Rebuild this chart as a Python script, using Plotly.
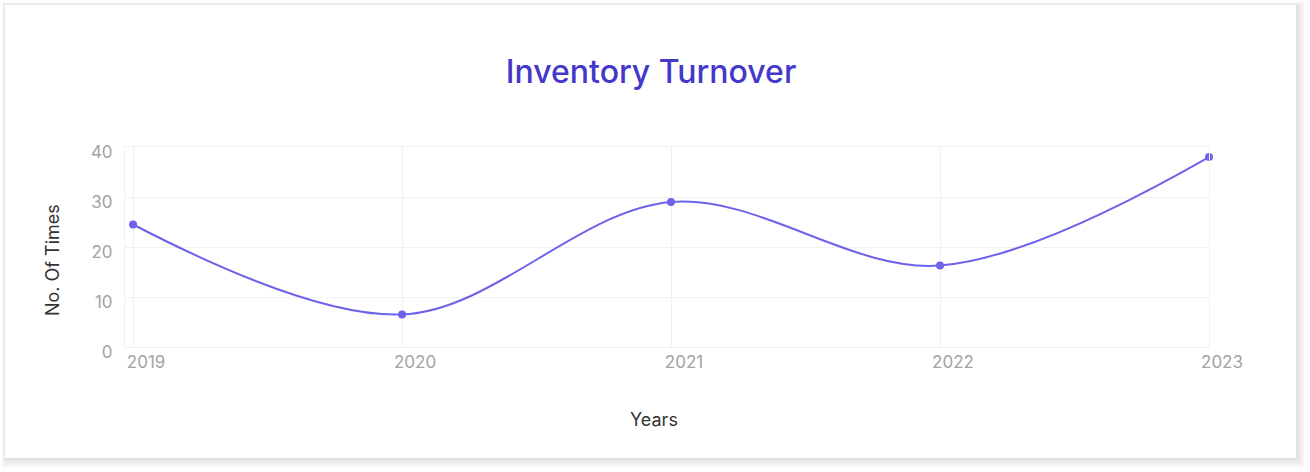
import plotly.graph_objects as go

W, H = 1310, 472

years = [2019, 2020, 2021, 2022, 2023]
year_labels = ["2019", "2020", "2021", "2022", "2023"]
turnover = [24.5, 6.5, 29, 16.3, 38]
y_ticks = [0, 10, 20, 30, 40]


def px_x(p):
    return p / W


def px_y(p):
    return 1 - p / H


fig = go.Figure()

fig.add_trace(
    go.Scatter(
        x=years,
        y=turnover,
        mode="lines+markers",
        line=dict(color="#6c63ea", width=2, shape="spline", smoothing=1),
        marker=dict(color="#6c63ea", size=8),
        hoverinfo="x+y",
        showlegend=False,
        cliponaxis=False,
    )
)

# card with soft shadow (stacked translucent rects)
shapes = []
for off in range(1, 11):
    shapes.append(
        dict(
            type="rect", xref="paper", yref="paper", layer="below",
            x0=px_x(5 - off * 0.3), x1=px_x(1296 + off), y0=px_y(458 + off), y1=px_y(5 - off * 0.3),
            fillcolor="rgba(0,0,0,0.011)", line=dict(width=0),
        )
    )
shapes.append(
    dict(
        type="rect", xref="paper", yref="paper", layer="below",
        x0=px_x(5), x1=px_x(1296), y0=px_y(458), y1=px_y(5),
        fillcolor="white", line=dict(width=0),
    )
)

# axis titles as annotations so they sit where the original puts them
axis_titles = [
    dict(text="Years", x=px_x(654), y=px_y(419), textangle=0),
    dict(text="No. Of Times", x=px_x(52), y=px_y(260), textangle=-90),
]
annotations = [
    dict(
        text=t["text"], x=t["x"], y=t["y"], textangle=t["textangle"],
        xref="paper", yref="paper", xanchor="center", yanchor="middle",
        showarrow=False, font=dict(family="Inter", size=18, color="#333333"),
    )
    for t in axis_titles
]

fig.update_layout(
    width=W,
    height=H,
    margin=dict(l=0, r=0, t=0, b=0),
    paper_bgcolor="white",
    plot_bgcolor="rgba(0,0,0,0)",
    font=dict(family="Inter", size=17, color="#a3a3a3"),
    title=dict(
        text="Inventory Turnover",
        x=px_x(651), xanchor="center",
        y=px_y(72), yanchor="middle",
        font=dict(family="Inter", size=32, color="#4338ca", weight=500),
    ),
    shapes=shapes,
    annotations=annotations,
    xaxis=dict(
        domain=[px_x(125), px_x(1209)],
        range=[2018.97, 2023.0],
        tickvals=years,
        ticktext=year_labels,
        ticklabelshift=13,
        showgrid=True,
        gridcolor="#f1f1f1",
        zeroline=False,
        showline=True,
        linecolor="#f1f1f1",
        mirror=True,
        ticks="",
        automargin=False,
    ),
    yaxis=dict(
        domain=[px_y(347), px_y(147)],
        range=[0, 40],
        tickvals=y_ticks,
        ticklabelshift=5,
        ticklabelstandoff=8,
        showgrid=True,
        gridcolor="#f1f1f1",
        zeroline=False,
        showline=True,
        linecolor="#f1f1f1",
        mirror=True,
        ticks="",
        automargin=False,
    ),
)

fig.write_html(
    "out.html",
    config={"displayModeBar": False},
    post_script="document.body.style.margin = '0';",
)
